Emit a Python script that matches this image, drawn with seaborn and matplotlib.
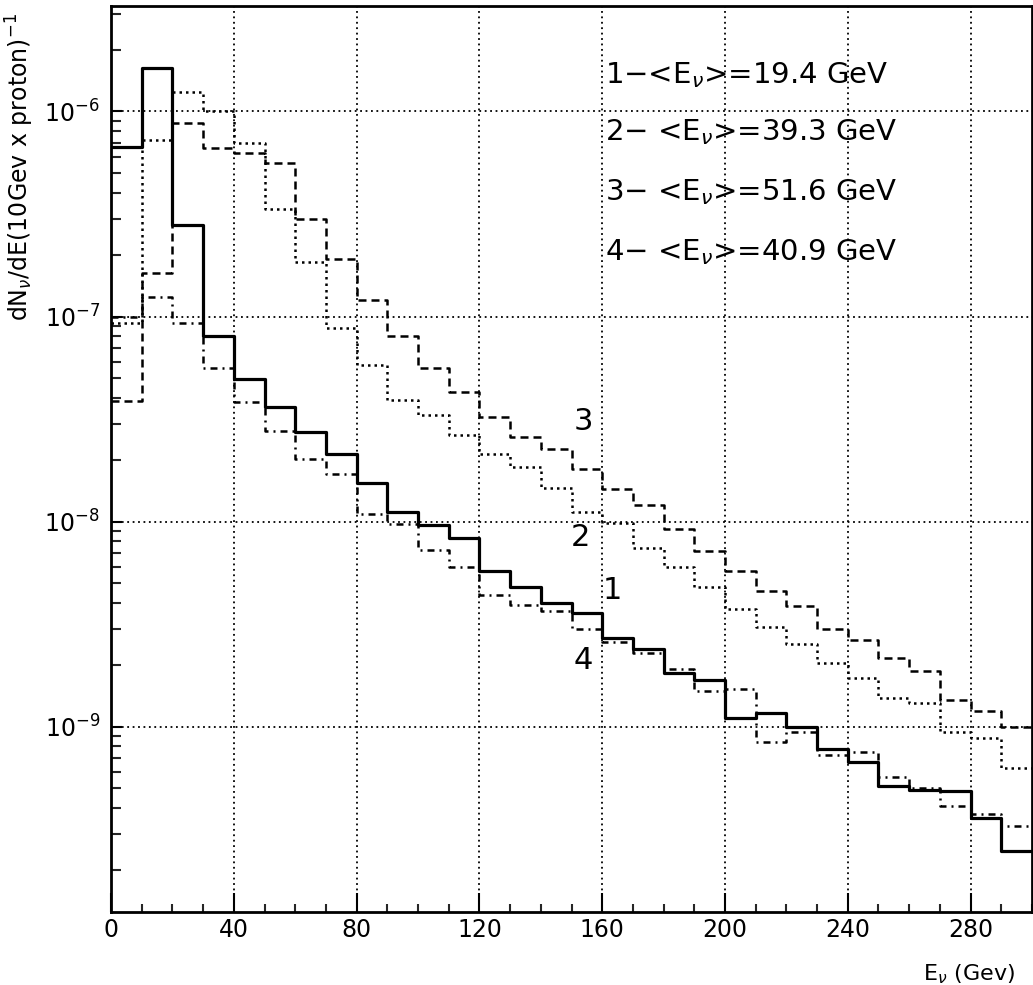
import numpy as np
import matplotlib
matplotlib.use("Agg")
import matplotlib.pyplot as plt
import seaborn as sns
from matplotlib.ticker import FixedLocator, FixedFormatter, NullFormatter

# ---------------- data (10 GeV bins, 0..300 GeV) ----------------
bin_edges = list(range(0, 310, 10))
bin_centers = [5 + 10 * i for i in range(30)]

curve1 = [6.7e-7, 1.63e-6, 2.79e-7, 8.0e-8, 4.95e-8, 3.62e-8, 2.73e-8, 2.13e-8, 1.54e-8, 1.11e-8,
          9.6e-9, 8.3e-9, 5.74e-9, 4.8e-9, 4.0e-9, 3.58e-9, 2.69e-9, 2.39e-9, 1.82e-9, 1.69e-9,
          1.1e-9, 1.16e-9, 1.0e-9, 7.8e-10, 6.7e-10, 5.13e-10, 4.9e-10, 4.85e-10, 3.58e-10, 2.47e-10]

curve2 = [9.3e-8, 7.3e-7, 1.24e-6, 1.0e-6, 7.0e-7, 3.34e-7, 1.85e-7, 8.8e-8, 5.8e-8, 3.92e-8,
          3.3e-8, 2.64e-8, 2.13e-8, 1.85e-8, 1.46e-8, 1.11e-8, 9.8e-9, 7.4e-9, 6.0e-9, 4.8e-9,
          3.74e-9, 3.05e-9, 2.52e-9, 2.04e-9, 1.73e-9, 1.38e-9, 1.30e-9, 9.4e-10, 8.8e-10, 6.3e-10]

curve3 = [3.85e-8, 1.63e-7, 8.8e-7, 6.6e-7, 6.3e-7, 5.6e-7, 3.0e-7, 1.9e-7, 1.2e-7, 8.0e-8,
          5.6e-8, 4.3e-8, 3.24e-8, 2.58e-8, 2.26e-8, 1.8e-8, 1.44e-8, 1.2e-8, 9.2e-9, 7.2e-9,
          5.74e-9, 4.6e-9, 3.87e-9, 3.0e-9, 2.64e-9, 2.16e-9, 1.87e-9, 1.35e-9, 1.19e-9, 1.0e-9]

curve4 = [9.9e-8, 1.25e-7, 9.3e-8, 5.6e-8, 3.83e-8, 2.77e-8, 2.02e-8, 1.7e-8, 1.09e-8, 9.7e-9,
          7.3e-9, 6.0e-9, 4.4e-9, 3.92e-9, 3.66e-9, 3.0e-9, 2.58e-9, 2.28e-9, 1.9e-9, 1.49e-9,
          1.52e-9, 8.4e-10, 9.4e-10, 7.3e-10, 7.5e-10, 5.7e-10, 5.0e-10, 4.1e-10, 3.74e-10, 3.27e-10]

legend_lines = ["1$-$<E$_{\\nu}$>=19.4 GeV",
                "2$-$ <E$_{\\nu}$>=39.3 GeV",
                "3$-$ <E$_{\\nu}$>=51.6 GeV",
                "4$-$ <E$_{\\nu}$>=40.9 GeV"]
curve_names = ["1", "2", "3", "4"]

x_major = [0, 40, 80, 120, 160, 200, 240, 280]
x_minor = list(range(0, 301, 10))
y_major = [1e-9, 1e-8, 1e-7, 1e-6]
y_major_labels = ["$10^{-9}$", "$10^{-8}$", "$10^{-7}$", "$10^{-6}$"]

# ---------------- styling ----------------
sns.set_theme(style="white")
plt.rcParams["font.family"] = ["DejaVu Sans"]
plt.rcParams["mathtext.fontset"] = "dejavusans"

fig = plt.figure(figsize=(10.33, 9.85), dpi=100)
ax = fig.add_axes([0.1075, 0.0741, 0.8915, 0.9198])
ax.set_yscale("log")

styles = [
    dict(linewidth=2.3, linestyle="-"),
    dict(linewidth=1.8, dashes=(1.0, 1.6)),
    dict(linewidth=1.8, dashes=(3.2, 2.0)),
    dict(linewidth=1.8, dashes=(2.8, 2.0, 0.8, 2.0)),
]
for vals, st in zip([curve1, curve2, curve3, curve4], styles):
    sns.histplot(x=bin_centers, weights=vals, bins=bin_edges, element="step",
                 fill=False, color="black", ax=ax, **st)

ax.set_xlim(0, 300)
ax.set_ylim(1.245e-10, 3.27e-6)

# ticks
ax.xaxis.set_major_locator(FixedLocator(x_major))
ax.xaxis.set_major_formatter(FixedFormatter([str(v) for v in x_major]))
ax.xaxis.set_minor_locator(FixedLocator(x_minor))
ax.yaxis.set_major_locator(FixedLocator(y_major))
ax.yaxis.set_major_formatter(FixedFormatter(y_major_labels))
y_minor = [m * 10.0 ** e for e in range(-10, -5) for m in range(2, 10)]
ax.yaxis.set_minor_locator(FixedLocator(y_minor))
ax.yaxis.set_minor_formatter(NullFormatter())

ax.tick_params(axis="x", which="major", direction="in", length=14, width=1.5,
               labelsize=17, pad=4, colors="black", bottom=True, top=False)
ax.tick_params(axis="x", which="minor", direction="in", length=6, width=1.5,
               bottom=True, top=False)
ax.tick_params(axis="y", which="major", direction="in", length=8, width=1.5,
               labelsize=17, pad=8, colors="black", left=True, right=False)
ax.tick_params(axis="y", which="minor", direction="in", length=7, width=1.5,
               left=True, right=False)

# grid
ax.grid(True, which="major", color="black", linewidth=1.3, linestyle=(0, (1.0, 2.0)))
ax.set_axisbelow(True)

for sp in ax.spines.values():
    sp.set_color("black")
    sp.set_linewidth(2.0)

# labels
ax.set_ylabel("dN$_{\\nu}$/dE(10Gev x proton)$^{-1}$", fontsize=17, loc="top",
              color="black")
ax.yaxis.set_label_coords(-0.082, 0.992)
ax.set_xlabel("E$_{\\nu}$ (Gev)", fontsize=16, color="black", ha="right")
ax.xaxis.set_label_coords(0.982, -0.056)

# legend text lines
legend_y = [0.924, 0.861, 0.795, 0.728]
for txt, yy in zip(legend_lines, legend_y):
    ax.text(0.536, yy, txt, transform=ax.transAxes, fontsize=21, va="center", ha="left",
            color="black")

# curve labels
label_pos = {"1": (0.544, 0.355), "2": (0.510, 0.413), "3": (0.5125, 0.541), "4": (0.5125, 0.278)}
for name in curve_names:
    xx, yy = label_pos[name]
    ax.text(xx, yy, name, transform=ax.transAxes, fontsize=22, va="center", ha="center",
            color="black")

fig.savefig("out.png", dpi=100)
